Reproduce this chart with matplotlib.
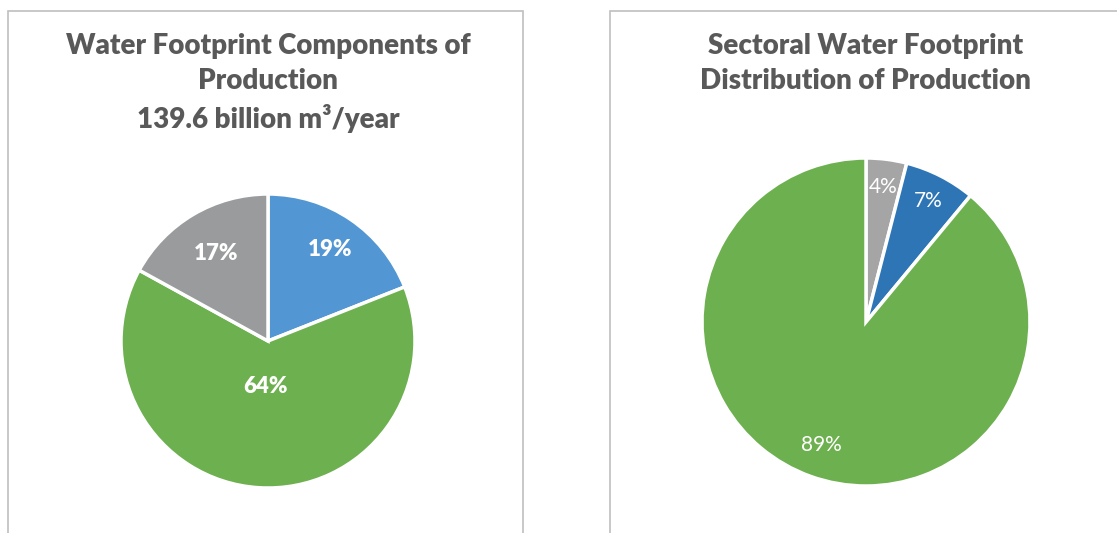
import numpy as np
import matplotlib
import matplotlib.pyplot as plt
from matplotlib.patches import Rectangle

matplotlib.use('Agg')

# --- datos ---
comp_labels = ['Blue', 'Green', 'Grey']
comp_values = [19, 64, 17]
comp_colors = ['#5296D3', '#6DB04F', '#999B9C']
comp_label_r = [0.75, 0.31, 0.69]

sect_labels = ['Domestic', 'Industrial', 'Agriculture']
sect_values = [4, 7, 89]
sect_colors = ['#A5A5A5', '#2E75B6', '#6DB04F']
sect_label_r = [0.83, 0.83, 0.80]

titulo_izq = 'Water Footprint Components of\nProduction\n139.6 billion m³/year'
titulo_der = 'Sectoral Water Footprint\nDistribution of Production'

W, H = 1117, 533
fig = plt.figure(figsize=(W / 100, H / 100), dpi=100)
fig.patch.set_facecolor('white')
plt.rcParams['font.family'] = ['Lato', 'DejaVu Sans']

# marcos de los paneles
fig.add_artist(Rectangle((7.5 / W, -0.05), (523 - 7.5) / W, 1.05 - 11 / H,
                         transform=fig.transFigure, fill=False, edgecolor='#BFBFBF', lw=1.2))
fig.add_artist(Rectangle((610 / W, -0.05), 0.5, 1.05 - 11 / H,
                         transform=fig.transFigure, fill=False, edgecolor='#BFBFBF', lw=1.2))


def pastel(cx, cy, r, valores, colores, radios, bold, fs):
    ax = fig.add_axes([(cx - r) / W, (H - cy - r) / H, 2 * r / W, 2 * r / H])
    ax.pie(valores, colors=colores, startangle=90, counterclock=False,
           radius=1, wedgeprops=dict(edgecolor='white', linewidth=2.5))
    ax.set_xlim(-1, 1)
    ax.set_ylim(-1, 1)
    ax.set_aspect('equal')
    ax.axis('off')
    acum = 0
    total = sum(valores)
    for v, rr in zip(valores, radios):
        mid = np.deg2rad(90 - (acum + v / 2) / total * 360)
        acum += v
        ax.text(rr * np.cos(mid), rr * np.sin(mid), f'{v}%', ha='center', va='center',
                color='white', fontsize=fs, fontweight='heavy' if bold else 'normal')
    return ax


pastel(268, 341, 147, comp_values, comp_colors, comp_label_r, True, 16)
pastel(866, 322, 164, sect_values, sect_colors, sect_label_r, False, 15)

fig.text(268 / W, 1 - 33 / H, titulo_izq, ha='center', va='top', fontsize=20,
         fontweight='heavy', color='#595959', linespacing=1.42)
fig.text(866 / W, 1 - 33 / H, titulo_der, ha='center', va='top', fontsize=20,
         fontweight='heavy', color='#595959', linespacing=1.42)

fig.savefig('out.png', dpi=100, facecolor='white')
